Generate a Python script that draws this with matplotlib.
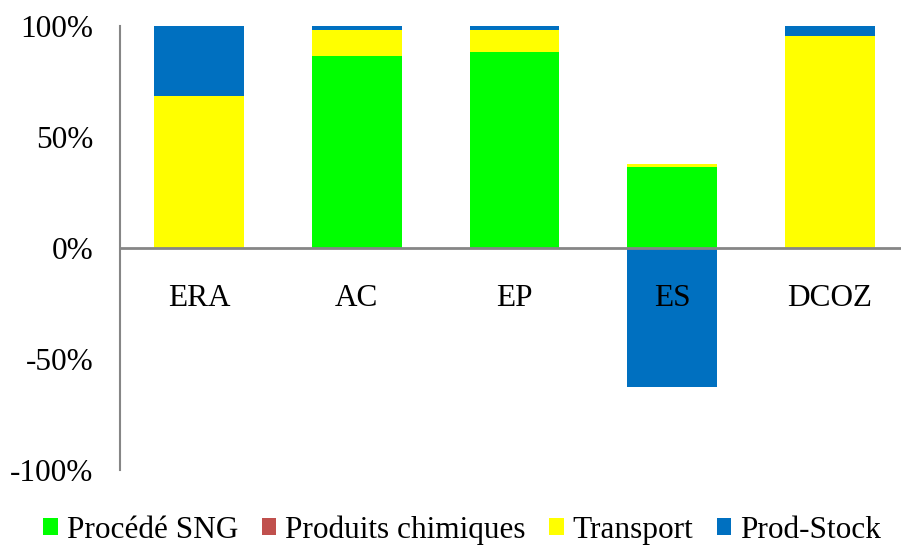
import matplotlib
matplotlib.use("Agg")
import matplotlib.pyplot as plt
import numpy as np
from matplotlib.ticker import FuncFormatter

plt.rcParams['font.family'] = ['Liberation Serif', 'DejaVu Serif']

categories = ["ERA", "AC", "EP", "ES", "DCOZ"]
series_names = ["Procédé SNG", "Produits chimiques", "Transport", "Prod-Stock"]
procede_sng = [0.0, 86.6, 88.4, 36.3, 0.0]
produits_chimiques = [0.0, 0.0, 0.0, 0.0, 0.0]
transport = [68.5, 11.6, 9.8, 1.6, 95.6]
prod_stock = [31.5, 1.8, 1.8, -62.7, 4.4]
colors = ["#00FF00", "#C0504D", "#FFFF00", "#0070C0"]
yticks = [-100, -50, 0, 50, 100]

fig = plt.figure(figsize=(9.01, 5.45), dpi=100)
ax = fig.add_axes([120/901, (545-470)/545, 789/901, 444/545])

x = np.arange(len(categories))
pos_base = np.zeros(len(categories))
neg_base = np.zeros(len(categories))
for name, vals, c in zip(series_names, [procede_sng, produits_chimiques, transport, prod_stock], colors):
    v = np.array(vals, dtype=float)
    base = np.where(v >= 0, pos_base, neg_base)
    ax.bar(x, v, bottom=base, width=0.57, color=c, label=name, zorder=2)
    pos_base = pos_base + np.where(v >= 0, v, 0)
    neg_base = neg_base + np.where(v < 0, v, 0)

ax.set_axisbelow(False)
ax.set_xlim(-0.5, len(categories) - 0.5)
ax.set_ylim(-100, 100)
ax.set_yticks(yticks)
ax.yaxis.set_major_formatter(FuncFormatter(lambda v, p: f"{int(v)}%"))
ax.set_xticks(x)
ax.set_xticklabels(categories)

for s in ["top", "right"]:
    ax.spines[s].set_visible(False)
ax.spines["left"].set_color("#868686")
ax.spines["left"].set_linewidth(1.5)
ax.spines["bottom"].set_position(("data", 0))
ax.spines["bottom"].set_color("#868686")
ax.spines["bottom"].set_linewidth(2)
ax.spines["bottom"].set_zorder(3)

ax.tick_params(axis="y", length=0, pad=19, labelsize=22.5)
ax.tick_params(axis="x", length=0, pad=26, labelsize=22.5)

leg = fig.legend(loc="lower center", bbox_to_anchor=(0.513, -0.04), ncol=4, frameon=False,
                 fontsize=22.5, handlelength=0.47, handleheight=0.47, handletextpad=0.28,
                 columnspacing=0.75, borderpad=0.2)

fig.savefig("out.png", dpi=100)
